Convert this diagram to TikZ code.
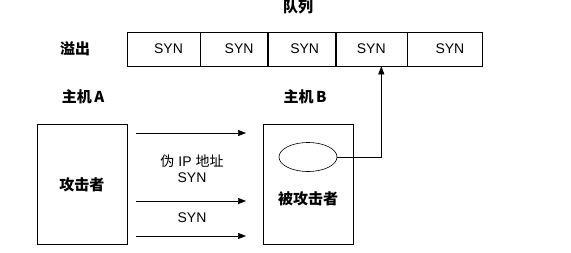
\documentclass[tikz,border=0pt]{standalone}
\usepackage{fontspec}
\setmainfont{Liberation Sans}
\newfontfamily\cjk{Noto Sans CJK SC}
\usetikzlibrary{arrows.meta,positioning,shapes.geometric}

\tikzset{
  cell/.style={draw, line width=0.6pt, minimum height=34pt, inner sep=0pt, font=\fontsize{14}{16}\selectfont},
  host/.style={draw, line width=0.6pt, minimum width=90pt, minimum height=120pt, inner sep=0pt},
  lbl/.style={font=\cjk\bfseries\fontsize{15}{17}\selectfont},
  sendarrow/.style={-{Triangle[length=8pt,width=6pt]}, line width=0.6pt}
}

\begin{document}
\begin{tikzpicture}[x=1pt, y=-1pt]
  \useasboundingbox (0,0) rectangle (571,252);

  % queue
  \node (q1) [cell, minimum width=73pt] at (163.5,49) {\hspace{10pt}SYN};
  \node (q2) [cell, minimum width=67pt, right=0pt of q1] {\hspace{10pt}SYN};
  \node (q3) [cell, minimum width=67pt, right=0pt of q2] {\hspace{6pt}SYN};
  \node (q4) [cell, minimum width=71pt, right=0pt of q3] {SYN};
  \node (q5) [cell, minimum width=75pt, right=0pt of q4] {\hspace{10pt}SYN};
  \node (queue) [lbl] at (298,7) {队列};
  \node (overflow) [lbl] at (75,49) {溢出};

  % hosts
  \node (hostA) [lbl] at (83,97) {主机\,A};
  \node (hostB) [lbl] at (305,97) {主机\,B};
  \node (attacker) [host] at (82,184) {};
  \node (victim) [host] at (308,184) {};
  \node (atktext) [lbl] at (82,185) {攻击者};
  \node (victext) [lbl] at (308,199) {被攻击者};
  \node (buffer) [draw, ellipse, line width=0.6pt, minimum width=58pt, minimum height=29pt, inner sep=0pt] at (308,157) {};

  % packets
  \coordinate (s1) at (136,133);
  \coordinate (e1) at (246,133);
  \coordinate (s2) at (136,201);
  \coordinate (e2) at (246,201);
  \coordinate (s3) at (136,236);
  \coordinate (e3) at (246,236);
  \draw[sendarrow] (s1) -- (e1);
  \draw[sendarrow] (s2) -- (e2);
  \draw[sendarrow] (s3) -- (e3);
  \node (spoof) [font=\fontsize{14}{16}\selectfont, align=center] at (192,169) {{\cjk 伪} IP {\cjk 地址}\\SYN};
  \node (syn) [font=\fontsize{14}{16}\selectfont] at (192,218) {SYN};

  \draw[sendarrow] (buffer.east) -| ([xshift=10pt]q4.south);
\end{tikzpicture}
\end{document}
